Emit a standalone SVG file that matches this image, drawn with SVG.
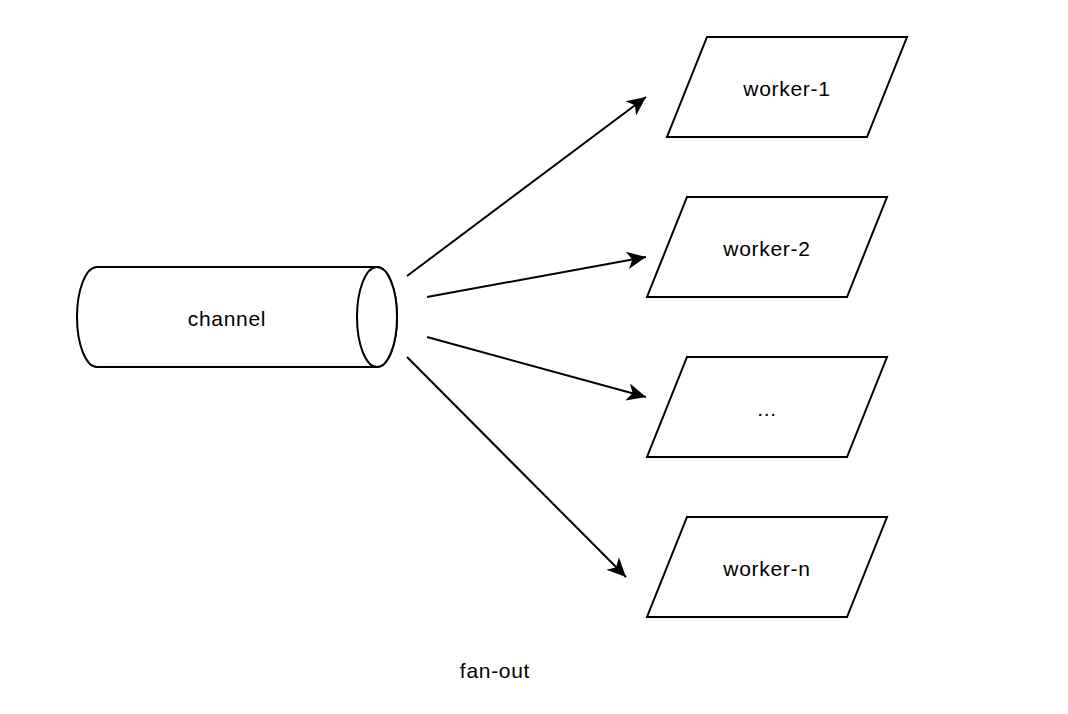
<svg xmlns="http://www.w3.org/2000/svg" width="1068" height="714" viewBox="0 0 1068 714">
<style>
.s{fill:#fff;stroke:#000;stroke-width:2}
.t{font-family:"Liberation Sans",Arial,sans-serif;font-size:21px;letter-spacing:0.7px;fill:#000;text-anchor:middle}
.c{fill:none;stroke:#000;stroke-width:2}
</style>
<defs>
<marker id="a" markerUnits="userSpaceOnUse" markerWidth="24" markerHeight="24" viewBox="-17 -9 19 18" refX="0" refY="0" orient="auto">
<path d="M0,0 L-15,-7 L-11,0 L-15,7 Z" fill="#000"/>
</marker>
</defs>
<rect width="1068" height="714" fill="#fff"/>
<g id="connectors">
<line class="c" x1="407" y1="276" x2="646" y2="97" marker-end="url(#a)"/>
<line class="c" x1="427" y1="297" x2="646" y2="257" marker-end="url(#a)"/>
<line class="c" x1="427" y1="337" x2="646" y2="397" marker-end="url(#a)"/>
<line class="c" x1="407" y1="357" x2="626" y2="577" marker-end="url(#a)"/>
</g>
<g id="channel">
<path class="s" d="M97,267 L377,267 A20,50 0 0 1 377,367 L97,367 A20,50 0 0 1 97,267 Z"/>
<ellipse class="s" cx="377" cy="317" rx="20" ry="50"/>
<text class="t" x="227" y="326">channel</text>
</g>
<g id="worker-1">
<path class="s" d="M707,37 L907,37 L867,137 L667,137 Z"/>
<text class="t" x="787" y="96">worker-1</text>
</g>
<g id="worker-2">
<path class="s" d="M687,197 L887,197 L847,297 L647,297 Z"/>
<text class="t" x="767" y="256">worker-2</text>
</g>
<g id="worker-dots">
<path class="s" d="M687,357 L887,357 L847,457 L647,457 Z"/>
<text class="t" x="767" y="416">...</text>
</g>
<g id="worker-n">
<path class="s" d="M687,517 L887,517 L847,617 L647,617 Z"/>
<text class="t" x="767" y="576">worker-n</text>
</g>
<g id="label">
<text class="t" x="495" y="678">fan-out</text>
</g>
</svg>
